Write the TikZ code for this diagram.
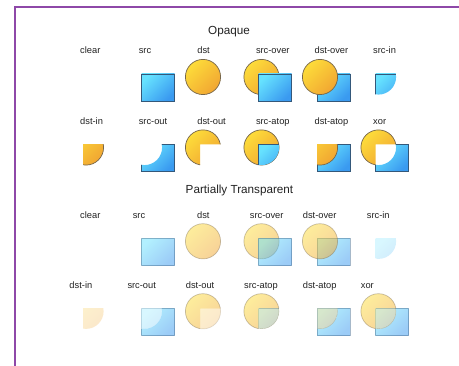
\documentclass[tikz,border=0pt]{standalone}
\usepackage{fontspec}
\setmainfont{Liberation Sans}
\definecolor{dstA}{HTML}{FDDC3A}
\definecolor{dstB}{HTML}{F1A632}
\definecolor{srcA}{HTML}{66E2FF}
\definecolor{srcB}{HTML}{3A9AF0}
\definecolor{dstEdge}{HTML}{76664A}
\definecolor{srcEdge}{HTML}{34587A}
\definecolor{frameC}{HTML}{8E48A8}
\definecolor{inkC}{HTML}{222222}
\tikzset{
  ydiscfill/.style={top color=dstA, bottom color=dstB, shading angle=45},
  brectfill/.style={top color=srcA, bottom color=srcB, shading angle=45},
  dstline/.style={draw=dstEdge, line width=0.7pt},
  srcline/.style={draw=srcEdge, line width=0.7pt},
  oplabel/.style={font=\fontsize{9.3}{11}\selectfont, text=inkC, inner sep=0pt},
  heading/.style={font=\fontsize{11.7}{14}\selectfont, text=inkC, inner sep=0pt},
  frameline/.style={draw=frameC, line width=1.4pt},
}
% Disc of radius 17.6 centred at (#1,#2); the square spans x: #1-3..#1+30, y: #2+3..#2-24
\newcommand\ydisc[3]{\shade[ydiscfill, opacity=#3] (#1,#2) circle (17.6pt);}
\newcommand\brect[3]{\shade[brectfill, opacity=#3] (#1-3,#2+3) rectangle (#1+30,#2-24);}
\newcommand\discedge[3]{\draw[dstline, opacity=#3] (#1,#2) circle (17.6pt);}
\newcommand\rectedge[3]{\draw[srcline, opacity=#3] (#1-3,#2+3) rectangle (#1+30,#2-24);}
\newcommand\inC[2]{\clip (#1,#2) circle (17.6pt);}
\newcommand\inR[2]{\clip (#1-3,#2+3) rectangle (#1+30,#2-24);}
% complements: clockwise outer frame plus a counter-clockwise hole (nonzero rule)
\newcommand\outC[2]{\clip (#1-40,#2+40) -- (#1+60,#2+40) -- (#1+60,#2-60) -- (#1-40,#2-60) -- cycle
  (#1+17.6,#2) arc[start angle=0, end angle=360, radius=17.6pt] -- cycle;}
\newcommand\outR[2]{\clip (#1-40,#2+40) -- (#1+60,#2+40) -- (#1+60,#2-60) -- (#1-40,#2-60) -- cycle
  (#1-3,#2+3) -- (#1-3,#2-24) -- (#1+30,#2-24) -- (#1+30,#2+3) -- cycle;}
\begin{document}
\begin{tikzpicture}[x=1pt, y=1pt]
\useasboundingbox (0,0) rectangle (459,366);
\fill[white] (0,0) rectangle (459,366);
\draw[frameline] (15,0) -- (15,359) -- (459,359);

% ---------- Opaque ----------
\node[heading, anchor=base] (t1) at (229,331) {Opaque};

\node[oplabel, anchor=base west] (l11) at (80,312) {clear};
\node[oplabel, anchor=base west] (l12) at (138.6,312) {src};
\node[oplabel, anchor=base west] (l13) at (197.2,312) {dst};
\node[oplabel, anchor=base west] (l14) at (255.8,312) {src-over};
\node[oplabel, anchor=base west] (l15) at (314.4,312) {dst-over};
\node[oplabel, anchor=base west] (l16) at (373,312) {src-in};

% src
\brect{144.5}{289}{1}\rectedge{144.5}{289}{1}
% dst
\ydisc{203}{289}{1}\discedge{203}{289}{1}
% src-over
\ydisc{261.5}{289}{1}\discedge{261.5}{289}{1}\brect{261.5}{289}{1}\rectedge{261.5}{289}{1}
% dst-over
\brect{320}{289}{1}\rectedge{320}{289}{1}\ydisc{320}{289}{1}\discedge{320}{289}{1}
% src-in
\begin{scope}\inC{378.5}{289}\brect{378.5}{289}{1}\rectedge{378.5}{289}{1}\end{scope}

\node[oplabel, anchor=base west] (l21) at (80,241.5) {dst-in};
\node[oplabel, anchor=base west] (l22) at (138.6,241.5) {src-out};
\node[oplabel, anchor=base west] (l23) at (197.2,241.5) {dst-out};
\node[oplabel, anchor=base west] (l24) at (255.8,241.5) {src-atop};
\node[oplabel, anchor=base west] (l25) at (314.4,241.5) {dst-atop};
\node[oplabel, anchor=base west] (l26) at (373,241.5) {xor};

% dst-in
\begin{scope}\inR{86}{218.5}\ydisc{86}{218.5}{1}\discedge{86}{218.5}{1}\end{scope}
% src-out
\begin{scope}\outC{144.5}{218.5}\brect{144.5}{218.5}{1}\rectedge{144.5}{218.5}{1}\end{scope}
% dst-out
\begin{scope}\outR{203}{218.5}\ydisc{203}{218.5}{1}\discedge{203}{218.5}{1}\end{scope}
% src-atop
\ydisc{261.5}{218.5}{1}\discedge{261.5}{218.5}{1}
\begin{scope}\inC{261.5}{218.5}\brect{261.5}{218.5}{1}\rectedge{261.5}{218.5}{1}\end{scope}
% dst-atop
\brect{320}{218.5}{1}\rectedge{320}{218.5}{1}
\begin{scope}\inR{320}{218.5}\ydisc{320}{218.5}{1}\discedge{320}{218.5}{1}\end{scope}
% xor
\begin{scope}\outR{378.5}{218.5}\ydisc{378.5}{218.5}{1}\discedge{378.5}{218.5}{1}\end{scope}
\begin{scope}\outC{378.5}{218.5}\brect{378.5}{218.5}{1}\rectedge{378.5}{218.5}{1}\end{scope}

% ---------- Partially Transparent ----------
\node[heading, anchor=base] (t2) at (239.5,172) {Partially Transparent};

\node[oplabel, anchor=base] (l31) at (90.3,147.5) {clear};
\node[oplabel, anchor=base] (l32) at (139,147.5) {src};
\node[oplabel, anchor=base] (l33) at (203.3,147.5) {dst};
\node[oplabel, anchor=base] (l34) at (266.7,147.5) {src-over};
\node[oplabel, anchor=base] (l35) at (319.7,147.5) {dst-over};
\node[oplabel, anchor=base] (l36) at (378.3,147.5) {src-in};

% src
\brect{144.5}{124.7}{.5}\rectedge{144.5}{124.7}{.4}
% dst
\ydisc{203}{124.7}{.5}\discedge{203}{124.7}{.4}
% src-over
\ydisc{261.5}{124.7}{.5}\discedge{261.5}{124.7}{.4}\brect{261.5}{124.7}{.5}\rectedge{261.5}{124.7}{.4}
% dst-over
\brect{320}{124.7}{.5}\rectedge{320}{124.7}{.4}\ydisc{320}{124.7}{.5}\discedge{320}{124.7}{.4}
% src-in
\begin{scope}\inC{378.5}{124.7}\brect{378.5}{124.7}{.25}\end{scope}

\node[oplabel, anchor=base west] (l41) at (69.3,77.5) {dst-in};
\node[oplabel, anchor=base west] (l42) at (127.3,77.5) {src-out};
\node[oplabel, anchor=base west] (l43) at (185.7,77.5) {dst-out};
\node[oplabel, anchor=base west] (l44) at (244,77.5) {src-atop};
\node[oplabel, anchor=base west] (l45) at (302.7,77.5) {dst-atop};
\node[oplabel, anchor=base west] (l46) at (360.7,77.5) {xor};

% dst-in
\begin{scope}\inR{86}{54.7}\ydisc{86}{54.7}{.25}\end{scope}
% src-out
\begin{scope}\outC{144.5}{54.7}\brect{144.5}{54.7}{.5}\rectedge{144.5}{54.7}{.4}\end{scope}
\begin{scope}\inC{144.5}{54.7}\brect{144.5}{54.7}{.25}\rectedge{144.5}{54.7}{.2}\end{scope}
% dst-out
\begin{scope}\outR{203}{54.7}\ydisc{203}{54.7}{.5}\discedge{203}{54.7}{.4}\end{scope}
\begin{scope}\inR{203}{54.7}\ydisc{203}{54.7}{.25}\discedge{203}{54.7}{.2}\end{scope}
% src-atop
\begin{scope}\outR{261.5}{54.7}\ydisc{261.5}{54.7}{.5}\discedge{261.5}{54.7}{.4}\end{scope}
\begin{scope}\inR{261.5}{54.7}\inC{261.5}{54.7}\ydisc{261.5}{54.7}{.333}\brect{261.5}{54.7}{.25}\discedge{261.5}{54.7}{.25}\rectedge{261.5}{54.7}{.25}\end{scope}
% dst-atop
\begin{scope}\outC{320}{54.7}\brect{320}{54.7}{.5}\rectedge{320}{54.7}{.4}\end{scope}
\begin{scope}\inC{320}{54.7}\inR{320}{54.7}\brect{320}{54.7}{.333}\ydisc{320}{54.7}{.25}\rectedge{320}{54.7}{.25}\discedge{320}{54.7}{.25}\end{scope}
% xor
\begin{scope}\outR{378.5}{54.7}\ydisc{378.5}{54.7}{.5}\discedge{378.5}{54.7}{.4}\end{scope}
\begin{scope}\outC{378.5}{54.7}\brect{378.5}{54.7}{.5}\rectedge{378.5}{54.7}{.4}\end{scope}
\begin{scope}\inC{378.5}{54.7}\inR{378.5}{54.7}\ydisc{378.5}{54.7}{.333}\brect{378.5}{54.7}{.25}\discedge{378.5}{54.7}{.25}\rectedge{378.5}{54.7}{.25}\end{scope}
\end{tikzpicture}
\end{document}
